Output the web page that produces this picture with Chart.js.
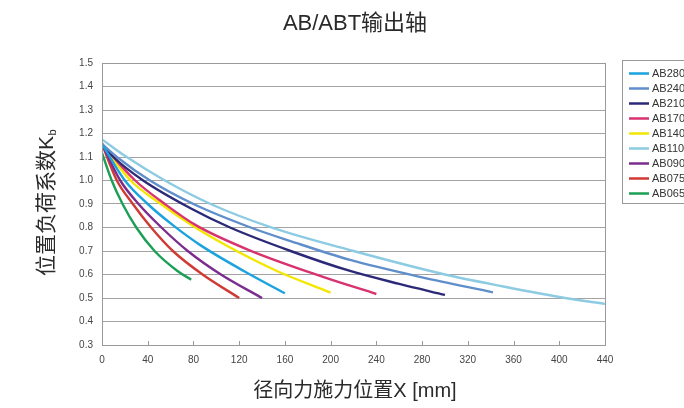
<!DOCTYPE html>
<html>
<head>
<meta charset="utf-8">
<script src="https://cdn.jsdelivr.net/npm/chart.js@4.4.1/dist/chart.umd.min.js"></script>
<style>
html,body{margin:0;padding:0;background:#fff;overflow:hidden;}
#wrap{width:684px;height:408px;position:relative;}
</style>
</head>
<body>
<div id="wrap"><canvas id="c" width="684" height="408"></canvas></div>
<script>
// ---- data ----
const seriesNames = ["AB280","AB240","AB210","AB170","AB140","AB110","AB090","AB075","AB065"];
const seriesColors = ["#1aa3dc","#5f8ecb","#2c2a78","#d8336f","#f3e600","#8ccbe2","#7b2d8e","#d03a35","#1a9f55"];

const xAB280 = [0, 20, 40, 62, 86, 124, 160];
const yAB280 = [1.155, 1.0, 0.9, 0.81, 0.725, 0.615, 0.52];
const xAB240 = [0, 13, 42, 80, 130, 165, 217, 280, 342];
const yAB240 = [1.155, 1.1, 1.0, 0.9, 0.8, 0.742, 0.662, 0.588, 0.524];
const xAB210 = [0, 10, 36, 77, 112, 165, 217, 260, 300];
const yAB210 = [1.155, 1.1, 1.0, 0.883, 0.8, 0.7, 0.615, 0.56, 0.513];
const xAB170 = [0, 29, 55, 82, 128, 192, 240];
const yAB170 = [1.155, 1.0, 0.9, 0.81, 0.705, 0.592, 0.517];
const xAB140 = [0, 25, 50, 80, 110, 153, 200];
const yAB140 = [1.155, 1.0, 0.905, 0.805, 0.72, 0.615, 0.523];
const xAB110 = [0, 20, 55, 95, 150, 220, 300, 350, 405, 440];
const yAB110 = [1.175, 1.105, 1.0, 0.9, 0.797, 0.7, 0.6, 0.55, 0.5, 0.475];
const xAB090 = [0, 16, 32, 52, 75, 104, 140];
const yAB090 = [1.155, 1.0, 0.9, 0.8, 0.7, 0.6, 0.5];
const xAB075 = [0, 13, 27, 43, 62, 88, 120];
const yAB075 = [1.155, 1.0, 0.9, 0.8, 0.7, 0.6, 0.5];
const xAB065 = [0, 8.5, 18, 30, 46, 66, 78];
const yAB065 = [1.117, 1.0, 0.9, 0.8, 0.7, 0.615, 0.578];

const xTicks = [0,40,80,120,160,200,240,280,320,360,400,440];
const yTicks = [0.3,0.4,0.5,0.6,0.7,0.8,0.9,1.0,1.1,1.2,1.3,1.4,1.5];

const titleText = "AB/ABT输出轴";
const xTitleText = "径向力施力位置X [mm]";
const yTitleMain = "位置负荷系数K";
const yTitleSub = "b";

const seriesX = [xAB280,xAB240,xAB210,xAB170,xAB140,xAB110,xAB090,xAB075,xAB065];
const seriesY = [yAB280,yAB240,yAB210,yAB170,yAB140,yAB110,yAB090,yAB075,yAB065];

// ---- build ----
const latin = '"Liberation Sans", Arial, "Noto Sans CJK SC", sans-serif';
const datasets = seriesNames.map((n,i)=>({
  label:n,
  data: seriesX[i].map((x,j)=>({x:x,y:seriesY[i][j]})),
  borderColor: seriesColors[i],
  backgroundColor: seriesColors[i],
  borderWidth: 2.4,
  pointRadius: 0,
  fill:false,
  cubicInterpolationMode:'monotone'
}));

const decor = {
  id:'decor',
  afterDraw(chart){
    const ctx = chart.ctx;
    const ca = chart.chartArea;
    const xs = chart.scales.x;
    ctx.save();
    // frame
    ctx.strokeStyle = '#9a9a9a';
    ctx.lineWidth = 1;
    ctx.strokeRect(Math.round(ca.left)+0.5, Math.round(ca.top)+0.5, Math.round(ca.right-ca.left), Math.round(ca.bottom-ca.top));
    // inward x ticks
    ctx.beginPath();
    xTicks.forEach(v=>{
      const px = Math.round(xs.getPixelForValue(v))+0.5;
      ctx.moveTo(px, ca.bottom);
      ctx.lineTo(px, ca.bottom-4);
    });
    ctx.stroke();
    // title
    ctx.fillStyle = '#2a2a2a';
    ctx.textAlign = 'center';
    ctx.textBaseline = 'middle';
    ctx.font = '22px ' + latin;
    ctx.fillText(titleText, 355, 24);
    // x title
    ctx.font = '20px ' + latin;
    ctx.fillText(xTitleText, 355, 391);
    // y title with subscript
    ctx.save();
    ctx.translate(47, 203);
    ctx.rotate(-Math.PI/2);
    ctx.font = '21px ' + latin;
    const w1 = ctx.measureText(yTitleMain).width;
    ctx.font = '11px ' + latin;
    const w2 = ctx.measureText(yTitleSub).width;
    const start = -(w1+w2)/2;
    ctx.textAlign = 'left';
    ctx.font = '21px ' + latin;
    ctx.fillText(yTitleMain, start, 0);
    ctx.font = '11px ' + latin;
    ctx.fillText(yTitleSub, start + w1 + 0.5, 6);
    ctx.restore();
    // legend
    ctx.strokeStyle = '#999';
    ctx.lineWidth = 1;
    ctx.strokeRect(622.5, 60.5, 90, 143);
    ctx.font = '11px ' + latin;
    ctx.textAlign = 'left';
    ctx.textBaseline = 'middle';
    seriesNames.forEach((n,i)=>{
      const y = 73.5 + i*15;
      ctx.strokeStyle = seriesColors[i];
      ctx.lineWidth = 2.5;
      ctx.beginPath();
      ctx.moveTo(629, y);
      ctx.lineTo(649, y);
      ctx.stroke();
      ctx.fillStyle = '#333';
      ctx.fillText(n, 652, y+0.5);
    });
    ctx.restore();
  }
};

new Chart(document.getElementById('c'), {
  type:'line',
  data:{datasets},
  options:{
    responsive:false,
    animation:false,
    layout:{padding:{left:0, top:63, right:79, bottom:33}},
    plugins:{legend:{display:false}, title:{display:false}, tooltip:{enabled:false}},
    scales:{
      x:{
        type:'linear', min:0, max:440,
        afterBuildTicks(s){ s.ticks = xTicks.map(v=>({value:v})); },
        afterFit(s){ s.height = 30; },
        grid:{display:false, drawTicks:false},
        border:{display:false},
        ticks:{padding:9, color:'#444', font:{size:10, family:latin}, maxRotation:0, autoSkip:false,
               callback:(v)=>String(v)}
      },
      y:{
        type:'linear', min:0.3, max:1.5,
        afterBuildTicks(s){ s.ticks = yTicks.map(v=>({value:v})); },
        afterFit(s){ s.width = 102; },
        grid:{color:'#a3a3a3', lineWidth:1, drawTicks:false},
        border:{display:false},
        ticks:{padding:9, color:'#444', font:{size:10, family:latin}, autoSkip:false,
               callback:(v)=>Number(v).toFixed(1)}
      }
    }
  },
  plugins:[decor]
});
</script>
</body>
</html>
